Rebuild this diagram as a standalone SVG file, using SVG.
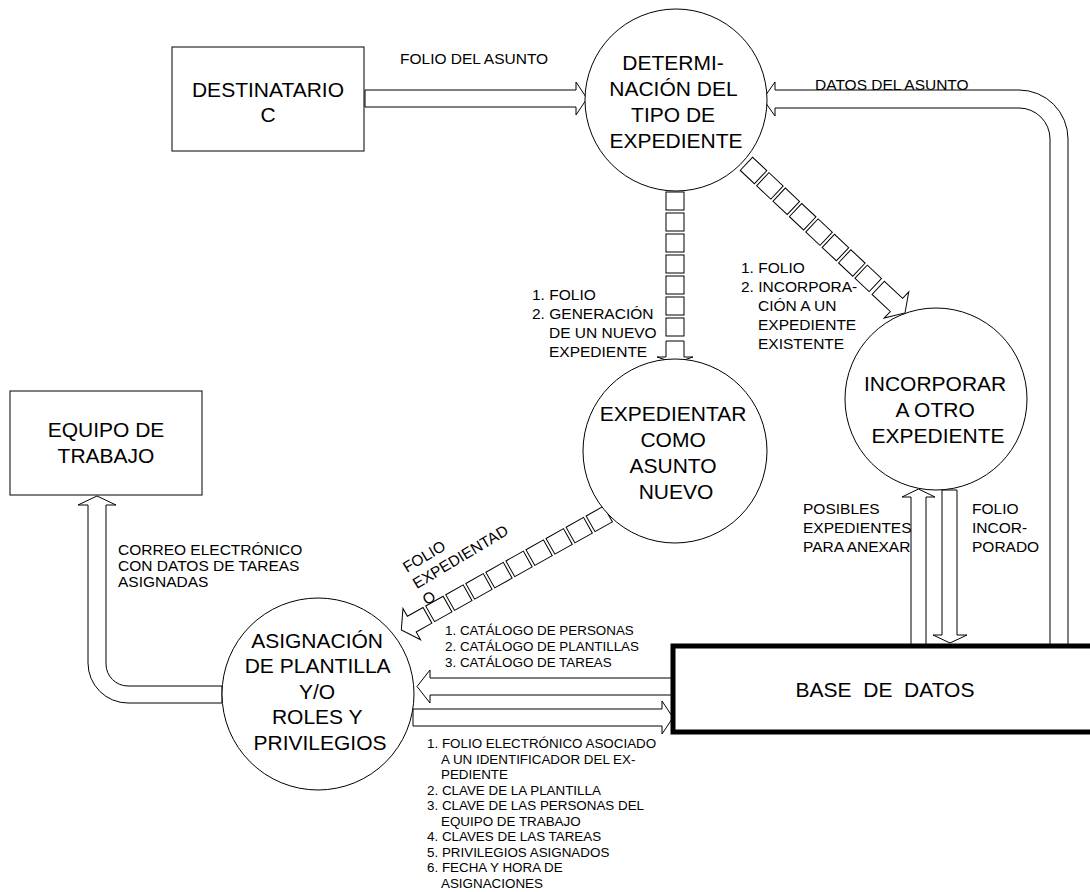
<svg xmlns="http://www.w3.org/2000/svg" width="1090" height="892" viewBox="0 0 1090 892">
<style>
.ln{fill:#fff;stroke:#000;stroke-width:1}
.big{font-family:"Liberation Sans",Arial,sans-serif;font-size:21px;fill:#000;text-anchor:middle}
.med{font-family:"Liberation Sans",Arial,sans-serif;font-size:15.5px;fill:#000}
.sm{font-family:"Liberation Sans",Arial,sans-serif;font-size:13.4px;fill:#000}
</style>
<rect width="1090" height="892" fill="#fff"/>

<g id="connectors">
  <!-- Destinatario -> Determinacion -->
  <polygon class="ln" points="365,90 576,90 576,82 587,98.5 576,115 576,107 365,107"/>
  <!-- Datos del asunto (DB -> Determinacion) -->
  <path class="ln" d="M1068 646 V139 A49 49 0 0 0 1019 90 H775 V82 L763 99 L775 116 V108 H1019 A31 31 0 0 1 1050 139 V646 Z"/>
  <!-- Determinacion -> Expedientar (striped) -->
  <g transform="translate(675,192) rotate(90)">
    <rect class="ln" x="0" y="-9" width="18" height="18"/>
    <rect class="ln" x="21" y="-9" width="18" height="18"/>
    <rect class="ln" x="42" y="-9" width="18" height="18"/>
    <rect class="ln" x="63" y="-9" width="18" height="18"/>
    <rect class="ln" x="84" y="-9" width="18" height="18"/>
    <rect class="ln" x="105" y="-9" width="18" height="18"/>
    <rect class="ln" x="126" y="-9" width="18" height="18"/>
    <polygon class="ln" points="149,-9 165,-9 165,-18 171,0 165,18 165,9 149,9"/>
  </g>
  <!-- Determinacion -> Incorporar (striped) -->
  <g transform="translate(746.4,163.8) rotate(43.25)">
    <rect class="ln" x="0" y="-9" width="19.5" height="18"/>
    <rect class="ln" x="22.5" y="-9" width="19.5" height="18"/>
    <rect class="ln" x="45" y="-9" width="19.5" height="18"/>
    <rect class="ln" x="67.5" y="-9" width="19.5" height="18"/>
    <rect class="ln" x="90" y="-9" width="19.5" height="18"/>
    <rect class="ln" x="112.5" y="-9" width="19.5" height="18"/>
    <rect class="ln" x="135" y="-9" width="19.5" height="18"/>
    <rect class="ln" x="157.5" y="-9" width="19.5" height="18"/>
    <polygon class="ln" points="181,-9 206,-9 206,-18 217.7,0 206,18 206,9 181,9"/>
  </g>
  <!-- Expedientar -> Asignacion (striped) -->
  <g transform="translate(608,514) rotate(150.7)">
    <rect class="ln" x="0" y="-9" width="20" height="18"/>
    <rect class="ln" x="23" y="-9" width="20" height="18"/>
    <rect class="ln" x="46" y="-9" width="20" height="18"/>
    <rect class="ln" x="69" y="-9" width="20" height="18"/>
    <rect class="ln" x="92" y="-9" width="20" height="18"/>
    <rect class="ln" x="115" y="-9" width="20" height="18"/>
    <rect class="ln" x="138" y="-9" width="20" height="18"/>
    <rect class="ln" x="161" y="-9" width="20" height="18"/>
    <rect class="ln" x="184" y="-9" width="20" height="18"/>
    <polygon class="ln" points="207,-9 225,-9 225,-18 237,0 225,18 225,9 207,9"/>
  </g>
  <!-- DB -> Incorporar (posibles expedientes) -->
  <polygon class="ln" points="911,645 911,497 902,497 918.5,489 935,497 926,497 926,645"/>
  <!-- Incorporar -> DB (folio incorporado) -->
  <polygon class="ln" points="942,490 957,490 957,635 967,635 950,643 933,635 942,635"/>
  <!-- DB -> Asignacion (catalogos) -->
  <polygon class="ln" points="673,678 430,678 430,670 417,686.5 430,703 430,695 673,695"/>
  <!-- Asignacion -> DB -->
  <polygon class="ln" points="413,709 662,709 662,701 673,717.5 662,734 662,726 413,726"/>
  <!-- Asignacion -> Equipo de trabajo -->
  <path class="ln" d="M222 686 H128 A22 22 0 0 1 106 664 V505 H116 L97 496 L78 505 H88 V663 A40 40 0 0 0 128 703 H222 Z"/>

  <!-- connector labels -->
  <text class="med" x="400" y="64">FOLIO DEL ASUNTO</text>
  <text class="med" x="815" y="90">DATOS DEL ASUNTO</text>
  <text class="med">
    <tspan x="532" y="300">1. FOLIO</tspan>
    <tspan x="532" y="319">2. GENERACIÓN</tspan>
    <tspan x="549" y="338">DE UN NUEVO</tspan>
    <tspan x="549" y="357">EXPEDIENTE</tspan>
  </text>
  <text class="med">
    <tspan x="741" y="273">1. FOLIO</tspan>
    <tspan x="741" y="292">2. INCORPORA-</tspan>
    <tspan x="758" y="311">CIÓN A UN</tspan>
    <tspan x="758" y="330">EXPEDIENTE</tspan>
    <tspan x="758" y="349">EXISTENTE</tspan>
  </text>
  <text class="med">
    <tspan x="803" y="514">POSIBLES</tspan>
    <tspan x="803" y="533">EXPEDIENTES</tspan>
    <tspan x="803" y="552">PARA ANEXAR</tspan>
  </text>
  <text class="med">
    <tspan x="972" y="514">FOLIO</tspan>
    <tspan x="972" y="533">INCOR-</tspan>
    <tspan x="972" y="552">PORADO</tspan>
  </text>
  <text class="med">
    <tspan x="118" y="555">CORREO ELECTRÓNICO</tspan>
    <tspan x="118" y="571">CON DATOS DE TAREAS</tspan>
    <tspan x="118" y="587">ASIGNADAS</tspan>
  </text>
  <text class="med" transform="translate(407,573) rotate(-31)">
    <tspan x="0" y="0">FOLIO</tspan>
    <tspan x="0" y="19">EXPEDIENTAD</tspan>
    <tspan x="0" y="38">O</tspan>
  </text>
  <text class="sm">
    <tspan x="445" y="635">1. CATÁLOGO DE PERSONAS</tspan>
    <tspan x="445" y="651">2. CATÁLOGO DE PLANTILLAS</tspan>
    <tspan x="445" y="667">3. CATÁLOGO DE TAREAS</tspan>
  </text>
  <text class="sm">
    <tspan x="427" y="748">1. FOLIO ELECTRÓNICO ASOCIADO</tspan>
    <tspan x="441" y="763.5">A UN IDENTIFICADOR DEL EX-</tspan>
    <tspan x="441" y="779">PEDIENTE</tspan>
    <tspan x="427" y="794.5">2. CLAVE DE LA PLANTILLA</tspan>
    <tspan x="427" y="810">3. CLAVE DE LAS PERSONAS DEL</tspan>
    <tspan x="441" y="825.5">EQUIPO DE TRABAJO</tspan>
    <tspan x="427" y="841">4. CLAVES DE LAS TAREAS</tspan>
    <tspan x="427" y="856.5">5. PRIVILEGIOS ASIGNADOS</tspan>
    <tspan x="427" y="872">6. FECHA Y HORA DE</tspan>
    <tspan x="441" y="887.5">ASIGNACIONES</tspan>
  </text>
</g>

<g id="destinatario">
  <rect class="ln" x="172" y="47" width="192" height="104"/>
  <text class="big"><tspan x="268" y="97">DESTINATARIO</tspan><tspan x="268" y="122">C</tspan></text>
</g>

<g id="determinacion">
  <circle class="ln" cx="676" cy="100" r="91"/>
  <text class="big">
    <tspan x="676" y="70">DETERMI-</tspan>
    <tspan x="676" y="96">NACIÓN DEL</tspan>
    <tspan x="676" y="122">TIPO DE</tspan>
    <tspan x="676" y="148">EXPEDIENTE</tspan>
  </text>
</g>

<g id="expedientar">
  <circle class="ln" cx="675" cy="451" r="92"/>
  <text class="big">
    <tspan x="676" y="421">EXPEDIENTAR</tspan>
    <tspan x="676" y="447">COMO</tspan>
    <tspan x="676" y="473">ASUNTO</tspan>
    <tspan x="676" y="499">NUEVO</tspan>
  </text>
</g>

<g id="incorporar">
  <circle class="ln" cx="936" cy="399" r="91"/>
  <text class="big">
    <tspan x="938" y="391">INCORPORAR</tspan>
    <tspan x="938" y="417">A OTRO</tspan>
    <tspan x="938" y="443">EXPEDIENTE</tspan>
  </text>
</g>

<g id="equipo">
  <rect class="ln" x="10" y="391" width="192" height="104"/>
  <text class="big"><tspan x="106" y="437">EQUIPO DE</tspan><tspan x="106" y="463">TRABAJO</tspan></text>
</g>

<g id="asignacion">
  <circle class="ln" cx="318" cy="694" r="96"/>
  <text class="big">
    <tspan x="320" y="648">ASIGNACIÓN</tspan>
    <tspan x="320" y="673">DE PLANTILLA</tspan>
    <tspan x="320" y="699">Y/O</tspan>
    <tspan x="320" y="724">ROLES Y</tspan>
    <tspan x="320" y="750">PRIVILEGIOS</tspan>
  </text>
</g>

<g id="base_datos">
  <rect x="673" y="646" width="430" height="86" fill="#fff" stroke="#000" stroke-width="5"/>
  <text class="big" x="885" y="697">BASE&#160; DE&#160; DATOS</text>
</g>
</svg>
